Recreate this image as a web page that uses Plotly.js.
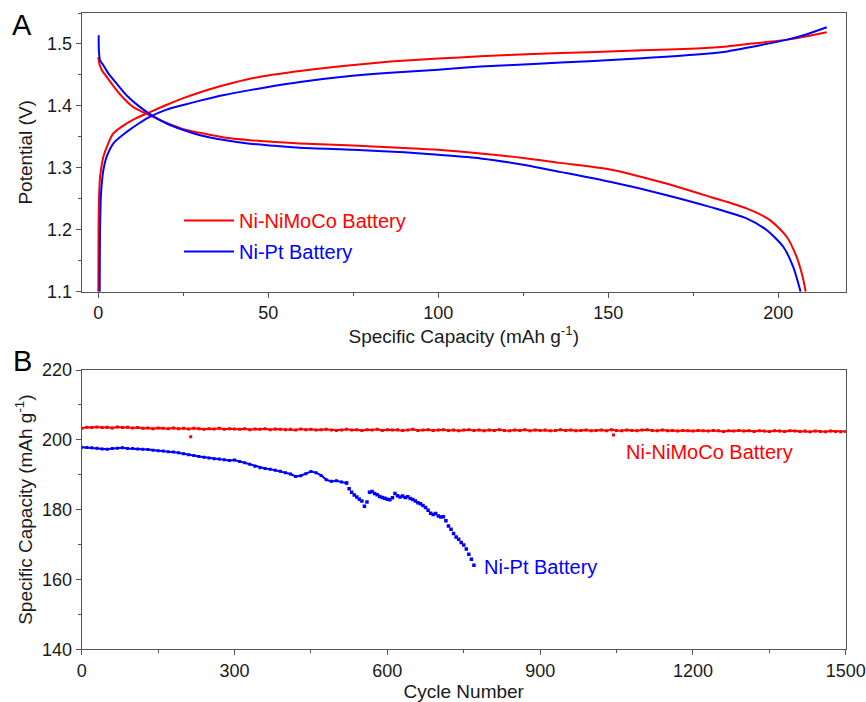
<!DOCTYPE html>
<html>
<head>
<meta charset="utf-8">
<script src="https://cdn.plot.ly/plotly-3.0.1.min.js"></script>
<style>html,body{margin:0;padding:0;background:#fff}#chart{width:866px;height:702px}</style>
</head>
<body>
<div id="chart"></div>
<script>
// ---------- Panel A: charge/discharge curves ----------
const niMoCoChargeCap = [0,0.05,0.25,0.5,0.9,1.47,2.8,4.4,7,10.3,15.2,20,25,30,35,39.7,48,59.3,72,85.9,100,112.4,128,144.3,160,176.1,185,192.1,202.7,208,214.3];
const niMoCoChargeV   = [1.1,1.2,1.26,1.285,1.3016,1.318,1.338,1.3555,1.367,1.378,1.390,1.4015,1.4125,1.422,1.4305,1.4375,1.4475,1.4565,1.4645,1.4715,1.4765,1.480,1.4838,1.4868,1.4898,1.4928,1.496,1.5006,1.507,1.512,1.519];

const niPtChargeCap = [0.4,0.5,0.8,1.1,1.4,2.45,4.5,8.35,12,15.4,20.1,25,29.9,37,44.6,52,59.3,72,85.9,100,112.4,128,144.3,160,176.1,185,192.1,202.7,208,214.3];
const niPtChargeV   = [1.1,1.2,1.26,1.28,1.294,1.318,1.34,1.358,1.372,1.383,1.394,1.4015,1.4085,1.4175,1.4255,1.4325,1.4387,1.447,1.4535,1.4585,1.4635,1.4678,1.4721,1.477,1.4829,1.488,1.4952,1.507,1.515,1.527];

const niMoCoDischargeCap = [0,0.3,1,2.45,5,7.5,10.3,15.4,20.1,25,29.9,37,44.6,52,59.3,75,90,100,112.4,125,135.8,150.5,165.2,179.9,190.7,197.6,202.5,205.4,207.2,208.1];
const niMoCoDischargeV   = [1.479,1.468,1.458,1.4468,1.428,1.412,1.398,1.384,1.3725,1.3625,1.3565,1.349,1.3447,1.3418,1.3394,1.336,1.332,1.329,1.3232,1.316,1.308,1.2974,1.2774,1.2532,1.2345,1.2156,1.1887,1.1565,1.124,1.1];

const niPtDischargeCap = [0.1,0.15,0.5,1.47,3,5.4,8.5,12.3,15.4,20.1,25,29.9,37,44.6,52,59.3,75,90,100,112.4,125,135.8,150.5,165.2,179.9,190.7,196.6,201.5,204.4,206.6];
const niPtDischargeV   = [1.514,1.49,1.4737,1.4656,1.452,1.436,1.416,1.398,1.386,1.3716,1.361,1.3527,1.345,1.339,1.3355,1.3323,1.329,1.325,1.321,1.3152,1.305,1.2935,1.2774,1.2587,1.237,1.2184,1.1995,1.1726,1.1403,1.1];

// ---------- Panel B: cycling ----------
const niMoCoCycleCap = [
203.3,203.6,203.5,203.7,203.5,203.6,203.4,203.7,203.5,203.6,203.4,
203.5,203.3,203.4,203.2,203.4,203.3,203.2,203.4,203.2,203.3,
203.1,203.3,203.2,203.0,203.2,203.1,203.3,203.0,203.2,203.1,
203.0,203.2,202.9,203.1,203.0,203.2,202.9,203.1,203.0,202.9,
203.0,202.8,203.1,202.9,203.0,202.8,202.9,203.0,202.8,202.7,
202.8,203.0,202.8,202.9,202.7,202.9,202.8,203.0,202.7,202.9,
202.8,202.9,202.7,202.8,203.0,202.7,202.8,202.9,202.7,202.8,
202.9,202.7,202.8,202.6,202.8,202.9,202.7,202.8,202.6,202.8,
202.7,202.9,202.7,202.6,202.8,202.7,202.9,202.6,202.8,202.7,
202.8,202.6,202.7,202.9,202.7,202.8,202.6,202.7,202.8,202.6,
202.7,202.8,202.6,202.9,202.7,202.6,202.8,202.7,202.6,202.8,
202.9,202.7,202.6,202.8,202.6,202.7,202.5,202.7,202.6,202.5,
202.7,202.6,202.5,202.7,202.6,202.4,202.6,202.5,202.7,202.5,
202.6,202.4,202.6,202.5,202.4,202.6,202.5,202.4,202.6,202.5,
202.4,202.5,202.3,202.5,202.4,202.3,202.5,202.4,202.3,202.4];
const niMoCoCycles = niMoCoCycleCap.map((_, i) => i * 10);
const niMoCoOutlierCycles = [214, 1044];
const niMoCoOutlierCap = [200.9, 201.4];

const niPtCycles = [0,10,20,30,40,50,60,70,80,90,100,110,120,130,140,150,160,170,180,190,200,210,220,230,240,250,260,270,280,290,300,310,320,330,340,350,360,370,380,390,400,410,420,430,440,450,460,470,480,490,500,510,520,
525,530,535,540,545,550,555,560,565,570,575,580,585,590,595,600,605,610,615,620,625,630,635,640,645,650,655,660,665,670,675,680,685,690,695,700,705,710,715,720,725,730,735,740,745,750,755,760,765,770];
const niPtCycleCap = [197.9,197.8,197.7,197.6,197.4,197.3,197.5,197.6,197.7,197.5,197.5,197.4,197.3,197.2,197.0,196.9,196.8,196.6,196.5,196.3,196.0,195.7,195.5,195.2,195.0,194.8,194.6,194.5,194.3,194.1,194.2,193.8,193.4,193.0,192.4,192.0,191.8,191.6,191.3,191.0,190.6,190.2,189.5,189.7,190.3,190.9,190.6,189.8,188.6,188.1,188.3,187.9,187.6,
186.0,185.0,184.2,183.6,183.0,182.5,181.0,182.2,185.0,185.2,184.6,184.3,183.8,183.5,183.3,183.0,182.8,183.4,184.6,184.0,183.6,183.9,183.5,183.7,183.2,182.9,182.5,182.0,181.7,181.2,180.6,179.8,179.0,178.6,178.9,178.2,177.9,178.0,176.8,175.3,174.4,173.2,172.2,171.5,170.6,169.9,168.7,167.2,165.8,164.1];

const RED = '#ff0000', BLUE = '#0000ff';
const FONT = '"Liberation Sans", Arial, sans-serif';
const TXT = '#1a1a1a';

const splitIdx = niPtCycles.indexOf(520);
const curveLine = (c) => ({color: c, width: 2, shape: 'spline', smoothing: 0.7});

const traces = [
  {x: niMoCoChargeCap, y: niMoCoChargeV, mode: 'lines', line: curveLine(RED),
   name: '<span style="color:#ff0000">Ni-NiMoCo Battery</span>', legendgroup: 'a', xaxis: 'x', yaxis: 'y'},
  {x: niMoCoDischargeCap, y: niMoCoDischargeV, mode: 'lines', line: curveLine(RED),
   showlegend: false, legendgroup: 'a', xaxis: 'x', yaxis: 'y'},
  {x: niPtChargeCap, y: niPtChargeV, mode: 'lines', line: curveLine(BLUE),
   name: '<span style="color:#0000ff">Ni-Pt Battery</span>', legendgroup: 'b', xaxis: 'x', yaxis: 'y'},
  {x: niPtDischargeCap, y: niPtDischargeV, mode: 'lines', line: curveLine(BLUE),
   showlegend: false, legendgroup: 'b', xaxis: 'x', yaxis: 'y'},
  {x: niMoCoCycles, y: niMoCoCycleCap, mode: 'lines+markers', line: {color: RED, width: 2},
   marker: {color: RED, size: 3, symbol: 'square'}, showlegend: false, xaxis: 'x2', yaxis: 'y2'},
  {x: niMoCoOutlierCycles, y: niMoCoOutlierCap, mode: 'markers',
   marker: {color: RED, size: 3, symbol: 'square'}, showlegend: false, xaxis: 'x2', yaxis: 'y2'},
  {x: niPtCycles.slice(0, splitIdx + 1), y: niPtCycleCap.slice(0, splitIdx + 1), mode: 'lines+markers',
   line: {color: BLUE, width: 2}, marker: {color: BLUE, size: 3, symbol: 'square'},
   showlegend: false, xaxis: 'x2', yaxis: 'y2'},
  {x: niPtCycles.slice(splitIdx), y: niPtCycleCap.slice(splitIdx), mode: 'markers',
   marker: {color: BLUE, size: 3.5, symbol: 'square'}, showlegend: false, xaxis: 'x2', yaxis: 'y2'}
];

const axisCommon = {
  showline: true, linecolor: '#555', linewidth: 1, mirror: true,
  ticks: 'outside', ticklen: 5, tickwidth: 1, tickcolor: '#555',
  showgrid: false, zeroline: false,
  tickfont: {family: FONT, size: 18, color: TXT},
};

const layout = {
  width: 866, height: 702,
  margin: {l: 0, r: 0, t: 0, b: 0},
  paper_bgcolor: '#fff', plot_bgcolor: '#fff',
  font: {family: FONT, color: TXT},
  showlegend: true,
  legend: {x: 179/866, y: 1 - 201/702, xanchor: 'left', yanchor: 'top',
           bgcolor: 'rgba(0,0,0,0)', font: {family: FONT, size: 20, color: TXT},
           traceorder: 'grouped', tracegroupgap: 2, itemwidth: 50},
  xaxis: Object.assign({}, axisCommon, {
    domain: [81.7/866, 845.8/866], range: [-4.9, 219.9], anchor: 'y',
    dtick: 50, tick0: 0,
    minor: {ticks: 'outside', ticklen: 3, dtick: 25, tick0: 0, tickcolor: '#555', showgrid: false},
    title: {text: 'Specific Capacity (mAh g<sup>-1</sup>)', font: {family: FONT, size: 19, color: TXT}, standoff: 7}
  }),
  yaxis: Object.assign({}, axisCommon, {
    domain: [1 - 291.7/702, 1 - 13/702], range: [1.1, 1.55], anchor: 'x',
    dtick: 0.1, tick0: 1.1, tickformat: '.1f',
    minor: {ticks: 'outside', ticklen: 3, dtick: 0.05, tick0: 1.1, tickcolor: '#555', showgrid: false},
    title: {text: 'Potential (V)', font: {family: FONT, size: 19, color: TXT}, standoff: 9}
  }),
  xaxis2: Object.assign({}, axisCommon, {
    domain: [81.7/866, 845.8/866], range: [0, 1500], anchor: 'y2',
    dtick: 300, tick0: 0,
    minor: {ticks: 'outside', ticklen: 3, dtick: 150, tick0: 0, tickcolor: '#555', showgrid: false},
    title: {text: 'Cycle Number', font: {family: FONT, size: 19, color: TXT}, standoff: 6}
  }),
  yaxis2: Object.assign({}, axisCommon, {
    domain: [1 - 649.3/702, 1 - 370/702], range: [140, 220], anchor: 'x2',
    dtick: 20, tick0: 140,
    minor: {ticks: 'outside', ticklen: 3, dtick: 10, tick0: 140, tickcolor: '#555', showgrid: false},
    title: {text: 'Specific Capacity (mAh g<sup>-1</sup>)', font: {family: FONT, size: 19, color: TXT}, standoff: 4}
  }),
  annotations: [
    {text: 'A', xref: 'paper', yref: 'paper', x: 22/866, y: 1 - 25/702, xanchor: 'center', yanchor: 'middle',
     showarrow: false, font: {family: FONT, size: 29, color: '#000'}},
    {text: 'B', xref: 'paper', yref: 'paper', x: 22/866, y: 1 - 361/702, xanchor: 'center', yanchor: 'middle',
     showarrow: false, font: {family: FONT, size: 29, color: '#000'}},
    {text: 'Ni-NiMoCo Battery', xref: 'x2', yref: 'y2', x: 1064, y: 196.6, xanchor: 'left', yanchor: 'middle',
     showarrow: false, font: {family: FONT, size: 20, color: RED}},
    {text: 'Ni-Pt Battery', xref: 'x2', yref: 'y2', x: 786, y: 163.7, xanchor: 'left', yanchor: 'middle',
     showarrow: false, font: {family: FONT, size: 20, color: BLUE}}
  ]
};

Plotly.newPlot('chart', traces, layout, {staticPlot: true, displayModeBar: false});
</script>
</body>
</html>
